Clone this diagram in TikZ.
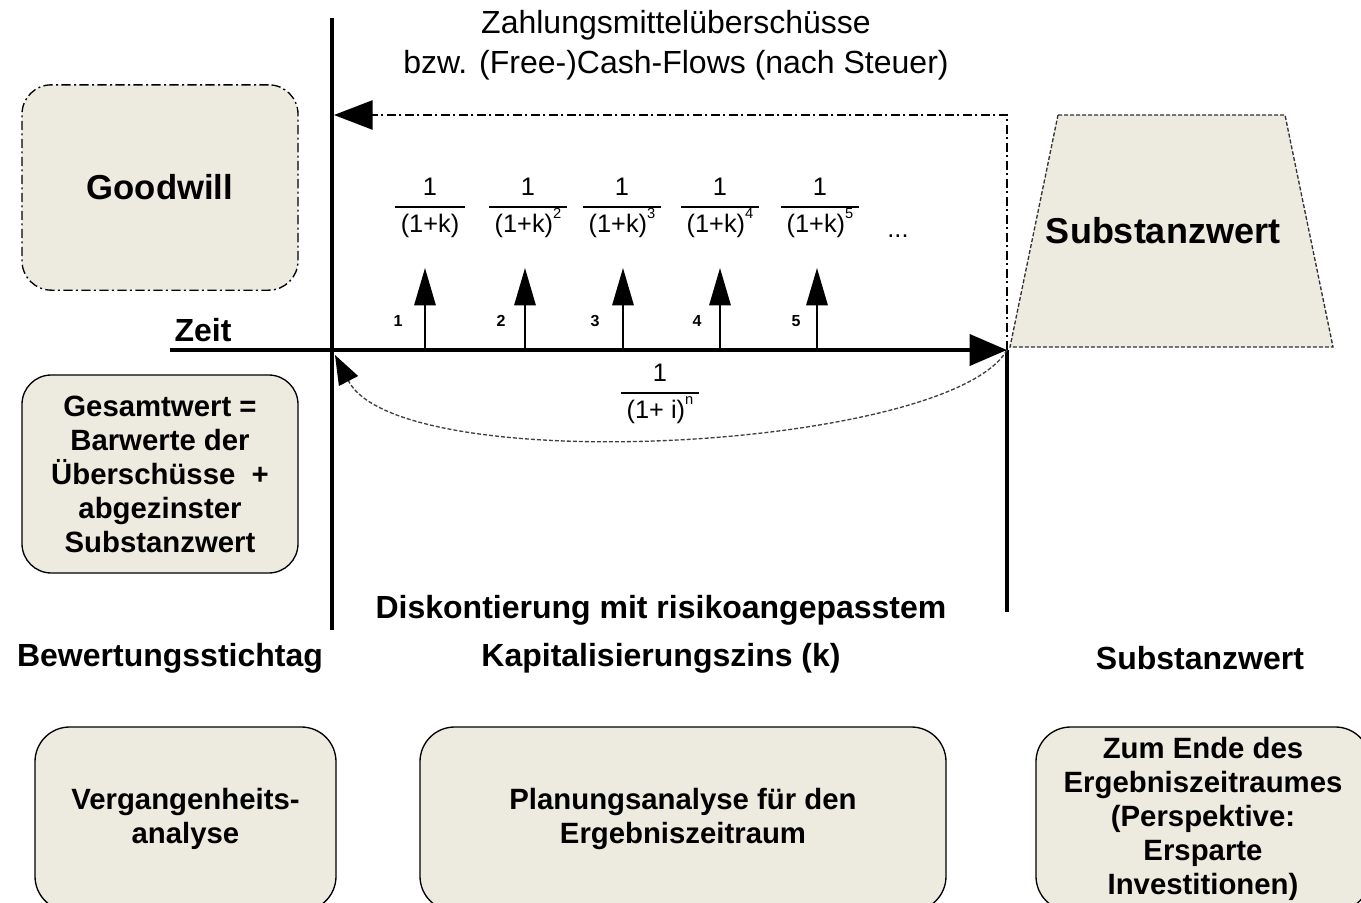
\documentclass[tikz,border=0pt]{standalone}
\usepackage{fontspec}
\setmainfont{Liberation Sans}
\usetikzlibrary{arrows.meta}
\definecolor{boxfill}{RGB}{237,234,224}
\setlength{\arrayrulewidth}{1pt}
\setlength{\tabcolsep}{4pt}
\newcommand{\expo}[1]{\raisebox{1.05ex}{\fontsize{11}{12}\selectfont #1}}
\tikzset{
 axisline/.style={line width=3.6pt},
 frameline/.style={line width=2.4pt},
 cashflow/.style={line width=1.5pt,-{Triangle[length=28pt,width=16pt]}},
 dashdot/.style={line width=1.1pt,dash pattern=on 7pt off 2.5pt on 1.5pt off 2.5pt},
 discount/.style={line width=1pt,draw=black!75,dash pattern=on 3pt off 1.5pt,-{Triangle[length=22pt,width=16pt,color=black]}},
 graybox/.style={draw,fill=boxfill,line width=1pt,rounded corners=22pt,align=center,font=\bfseries\fontsize{22}{25.5}\selectfont},
 fracnode/.style={font=\fontsize{19}{27}\selectfont,inner sep=0},
 periodlabel/.style={font=\bfseries\fontsize{12}{14}\selectfont},
 bigtext/.style={font=\bfseries\fontsize{24}{36}\selectfont,align=center}
}

\begin{document}
\begin{tikzpicture}[x=0.75pt,y=-0.75pt]
\clip (0,0) rectangle (1361,903);
\coordinate (Tstart) at (170,350);
\coordinate (O) at (332,350);
\coordinate (T) at (1007,350);
\coordinate (Otop) at (332,18);
\coordinate (Obot) at (332,630);
\coordinate (Tbot) at (1007,612);
\coordinate (Ttop) at (1007,115);
\coordinate (Oarr) at (334,115);
\coordinate (Ocurve) at (335,355);
% time axis and the two frame lines
\draw[frameline] (Otop) -- (Obot);
\draw[frameline] (T) -- (Tbot);
\draw[axisline,-{Triangle[length=28pt,width=23pt]}] (Tstart) -- (T);
\draw[dashdot,-{Triangle[length=29pt,width=22pt]}] (T) -- (Ttop) -- (Oarr);
\draw[discount] (T) .. controls (950,450) and (400,480) .. (Ocurve);
\node[font=\fontsize{24}{30}\selectfont,align=center] (cashtitle) at (676,45) {Zahlungsmittelüberschüsse\\bzw. (Free-)Cash-Flows (nach Steuer)};
\node[font=\bfseries\fontsize{24}{28}\selectfont] (zeit) at (203,330) {Zeit};
% cash flows per period
\coordinate (c1b) at (425,348);
\coordinate (c1t) at (425,268);
\coordinate (c2b) at (525,348);
\coordinate (c2t) at (525,268);
\coordinate (c3b) at (623,348);
\coordinate (c3t) at (623,268);
\coordinate (c4b) at (720,348);
\coordinate (c4t) at (720,268);
\coordinate (c5b) at (817,348);
\coordinate (c5t) at (817,268);
\draw[cashflow] (c1b) -- (c1t);
\draw[cashflow] (c2b) -- (c2t);
\draw[cashflow] (c3b) -- (c3t);
\draw[cashflow] (c4b) -- (c4t);
\draw[cashflow] (c5b) -- (c5t);
\node[periodlabel] (p1) at (398,321) {1};
\node[periodlabel] (p2) at (501,321) {2};
\node[periodlabel] (p3) at (595,321) {3};
\node[periodlabel] (p4) at (697,321) {4};
\node[periodlabel] (p5) at (796,321) {5};
\node[fracnode] (f1) at (430,207) {\begin{tabular}{c}1\\\hline(1+k)\end{tabular}};
\node[fracnode] (f2) at (528,207) {\begin{tabular}{c}1\\\hline(1+k)\expo{2}\end{tabular}};
\node[fracnode] (f3) at (622,207) {\begin{tabular}{c}1\\\hline(1+k)\expo{3}\end{tabular}};
\node[fracnode] (f4) at (720,207) {\begin{tabular}{c}1\\\hline(1+k)\expo{4}\end{tabular}};
\node[fracnode] (f5) at (820,207) {\begin{tabular}{c}1\\\hline(1+k)\expo{5}\end{tabular}};
\node[font=\fontsize{19}{22}\selectfont] (dots) at (898,236) {...};
\node[fracnode] (fn) at (660,393) {\begin{tabular}{c}1\\\hline(1+ i)\expo{n}\end{tabular}};
% value blocks
\node[graybox,dash pattern=on 7pt off 2.5pt on 1.5pt off 2.5pt,minimum width=207pt,minimum height=154pt,font=\bfseries\fontsize{26}{30}\selectfont] (goodwill) at (160,187.5) {Goodwill};
\draw[fill=boxfill,line width=1pt,draw=black!80,dash pattern=on 3pt off 1.5pt] (1058,115) -- (1285,115) -- (1333,347) -- (1010,347) -- cycle;
\node[font=\bfseries\fontsize{27}{30}\selectfont] (substanz) at (1163,231) {Substanzwert};
\node[graybox,minimum width=207pt,minimum height=148.5pt] (gesamt) at (160,474) {Gesamtwert =\\Barwerte der\\Überschüsse\ \ +\\abgezinster\\Substanzwert};
\node[bigtext] (diskont) at (661,634) {Diskontierung mit risikoangepasstem\\Kapitalisierungszins (k)};
\node[bigtext] (stichtag) at (170,658) {Bewertungsstichtag};
\node[bigtext] (endwert) at (1200,658) {Substanzwert};
% analysis boxes
\node[graybox,rounded corners=26pt,minimum width=225.75pt,minimum height=138pt] (vergangen) at (185.5,819) {Vergangenheits-\\analyse};
\node[graybox,rounded corners=26pt,minimum width=394.5pt,minimum height=138pt] (planung) at (683,819) {Planungsanalyse für den\\Ergebniszeitraum};
\node[graybox,rounded corners=26pt,minimum width=250.5pt,minimum height=138pt] (ende) at (1203,819) {Zum Ende des\\Ergebniszeitraumes\\(Perspektive:\\Ersparte\\Investitionen)};
\end{tikzpicture}
\end{document}
